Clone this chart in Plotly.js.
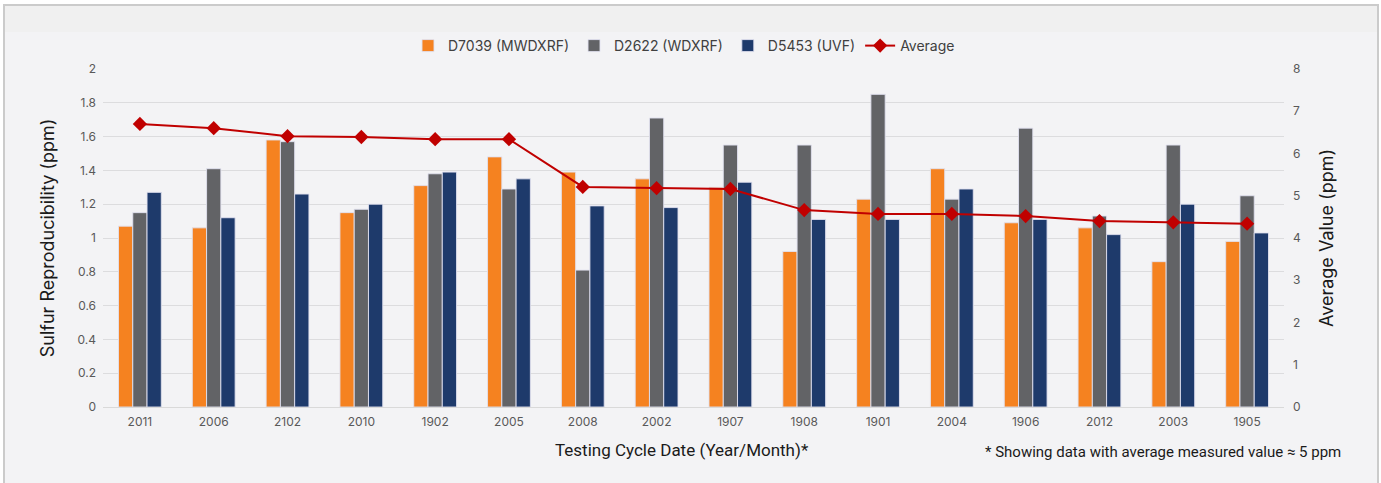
<!DOCTYPE html>
<html>
<head>
<meta charset="utf-8">
<script src="https://cdn.plot.ly/plotly-3.0.1.min.js"></script>
<style>
html,body{margin:0;padding:0;background:#ffffff;}
#chart{width:1381px;height:483px;}
</style>
</head>
<body>
<div id="chart"></div>
<script>
const categories = ["2011","2006","2102","2010","1902","2005","2008","2002","1907","1908","1901","2004","1906","2012","2003","1905"];
const d7039 = [1.07,1.06,1.58,1.15,1.31,1.48,1.39,1.35,1.30,0.92,1.23,1.41,1.09,1.06,0.86,0.98];
const d2622 = [1.15,1.41,1.57,1.17,1.38,1.29,0.81,1.71,1.55,1.55,1.85,1.23,1.65,1.13,1.55,1.25];
const d5453 = [1.27,1.12,1.26,1.20,1.39,1.35,1.19,1.18,1.33,1.11,1.11,1.29,1.11,1.02,1.20,1.03];
const average = [6.70,6.60,6.41,6.39,6.34,6.34,5.21,5.18,5.16,4.66,4.57,4.57,4.52,4.40,4.37,4.34];
const leftTicks = [0,0.2,0.4,0.6,0.8,1,1.2,1.4,1.6,1.8,2];
const leftTickText = ["0","0.2","0.4","0.6","0.8","1","1.2","1.4","1.6","1.8","2"];
const rightTicks = [0,1,2,3,4,5,6,7,8];

const barLine = {color:'rgba(225,225,240,0.9)', width:1};
const traces = [
  {type:'bar', name:'D7039 (MWDXRF)', x:categories, y:d7039, marker:{color:'#F58220', line:barLine}},
  {type:'bar', name:'D2622 (WDXRF)', x:categories, y:d2622, marker:{color:'#626366', line:barLine}},
  {type:'bar', name:'D5453 (UVF)', x:categories, y:d5453, marker:{color:'#1E3A6B', line:barLine}},
  {type:'scatter', mode:'lines+markers', name:'Average', x:categories, y:average, yaxis:'y2',
   line:{color:'#C00000', width:2}, marker:{symbol:'diamond', size:11, color:'#C00000'}}
];

const L=103, R=1284, T=69, B=407;
const W=R-L, H=B-T;
function px(x){return (x-L)/W;}
function py(y){return (B-y)/H;}

const layout = {
  width:1381, height:483,
  margin:{l:L, r:1381-R, t:T, b:483-B, pad:0, autoexpand:false},
  paper_bgcolor:'#ffffff',
  plot_bgcolor:'rgba(0,0,0,0)',
  font:{family:'Inter, sans-serif', size:12, color:'#595959'},
  barmode:'group',
  bargap:0.42,
  bargroupgap:0,
  showlegend:true,
  legend:{orientation:'h', x:px(684), y:py(46), xanchor:'center', yanchor:'middle',
          font:{family:'Inter, sans-serif', size:14, color:'#404040'}, bgcolor:'rgba(0,0,0,0)',
          traceorder:'normal', itemwidth:30},
  xaxis:{type:'category', automargin:false, range:[-0.5, categories.length-0.5], tickfont:{size:12, color:'#595959'}, showgrid:false, zeroline:false,
         showline:true, linecolor:'#d9d9d9', linewidth:1, ticks:'', ticklabelstandoff:4},
  yaxis:{range:[0,2], automargin:false, tickvals:leftTicks, ticktext:leftTickText, showgrid:true, gridcolor:'#dcdcde', gridwidth:1,
         zeroline:false, showline:false, ticks:'', tickfont:{size:12, color:'#595959'}, ticklabelstandoff:6,
         title:{text:'Sulfur Reproducibility (ppm)', font:{family:'Inter, sans-serif', size:18, color:'#1a1a1a'}, standoff:18}},
  yaxis2:{overlaying:'y', side:'right', automargin:false, range:[0,8], tickvals:rightTicks, showgrid:false, zeroline:false,
          showline:false, ticks:'', tickfont:{size:12, color:'#595959'}, ticklabelstandoff:8,
          title:{text:'Average Value (ppm)', font:{family:'Inter, sans-serif', size:18, color:'#1a1a1a'}, standoff:20}},
  shapes:[
    {type:'rect', xref:'paper', yref:'paper', x0:px(4), x1:px(1378), y0:py(520), y1:py(5),
     fillcolor:'#f3f3f5', line:{color:'#cbcbcb', width:2}, layer:'below'},
    {type:'rect', xref:'paper', yref:'paper', x0:px(5), x1:px(1377), y0:py(32), y1:py(6),
     fillcolor:'#f0f0f0', line:{width:0}, layer:'below'}
  ],
  annotations:[
    {xref:'paper', yref:'paper', x:px(682), y:py(450), xanchor:'center', yanchor:'middle', showarrow:false,
     text:'Testing Cycle Date (Year/Month)*', font:{family:'Roboto, sans-serif', size:17, color:'#1a1a1a'}},
    {xref:'paper', yref:'paper', x:px(1343), y:py(452), xanchor:'right', yanchor:'middle', showarrow:false,
     text:'* Showing data with average measured value ≈ 5 ppm', font:{family:'Roboto, sans-serif', size:15, color:'#1a1a1a'}}
  ]
};

Plotly.newPlot('chart', traces, layout, {displayModeBar:false, staticPlot:true});
</script>
</body>
</html>
